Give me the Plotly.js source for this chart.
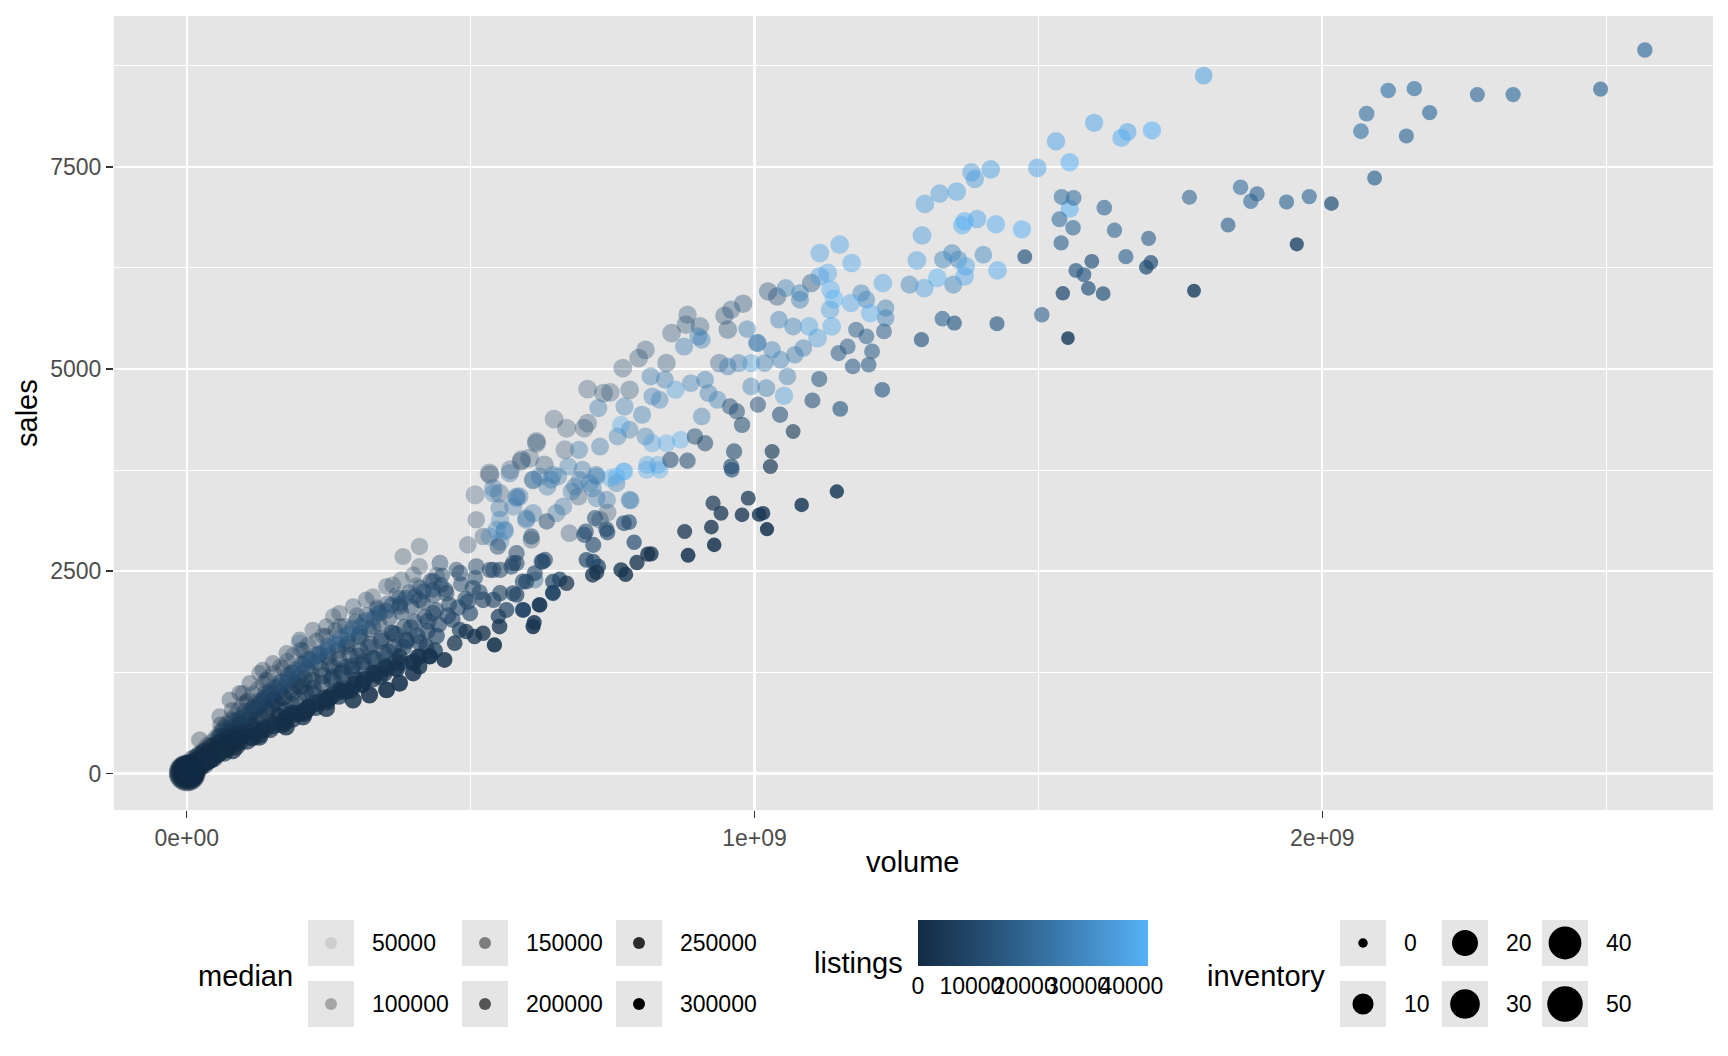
<!DOCTYPE html>
<html>
<head>
<meta charset="utf-8">
<script src="https://cdn.plot.ly/plotly-3.0.1.min.js"></script>
<style>
  html, body { margin: 0; padding: 0; background: #fff; }
  #chart { width: 1728px; height: 1056px; }
</style>
</head>
<body>
<div id="chart"></div>
<script>
// txhousing-like scatter: volume vs sales, colour = listings, alpha = median, size = inventory
// values (volume in $ millions, median in $ thousands)

const volumeM = [
  // upper band, grey (low median)
  1100,1024,1040,980,959,947,953,882,879,904,854,845,796,808,768,780,734,706,746,938,647,669,700,706,666,616,604,589,570,533,508,551,
  616,590,510,522,495,630,410,378,352,410,381,340,316,293,269,246,222,199,176,152,134,111,93,76,
  23,58,99,128,258,328,363,399,
  674,728,741,690,607,534,610,
  60,80,105,140,170,205,240,270,300,335,370,405,440,
  // blob interior
  305,281,328,363,387,222,199,258,281,234,211,187,164,140,152,128,
  152,199,305,
  552,522,
  15,22,28,35,42,50,55,62,68,75,82,88,95,103,110,118,125,133,140,148,156,163,171,178,186,195,204,212,221,230,240,249,258,266,275,284,293,302,311,320,331,342,356,368,382,395,410,425,440,460,478,495,
  // blob fill
  5,8,11,13,9,14,6,
  17,19,21,24,26,28,23,30,
  32,34,37,39,41,44,46,48,36,
  52,54,57,59,61,64,66,69,67,
  71,73,76,78,81,84,86,89,87,
  92,94,97,99,102,106,108,112,115,117,119,116,
  122,126,128,131,135,137,141,144,146,149,139,
  153,155,158,161,165,167,170,174,177,179,172,
  182,185,188,191,194,197,201,203,207,209,205,
  214,216,219,223,226,229,233,236,239,243,246,248,
  252,255,259,262,265,268,272,276,279,283,287,291,295,298,
  303,306,309,313,317,321,324,328,332,336,339,343,347,349,
  353,357,361,365,369,374,378,383,387,392,396,401,406,411,416,419,
  424,429,434,439,444,450,456,462,468,475,483,491,499,508,516,
  // blob middle (bluish) band
  58,64,77,83,96,104,117,124,138,146,158,166,179,186,199,207,219,228,241,249,262,271,284,292,306,315,329,338,352,361,376,386,402,417,433,448,
  // blob shaft near the origin
  3,6,10,14,18,22,28,34,40,46,52,60,68,76,84,92,
  // blob lower dark band
  26,33,47,54,66,73,87,94,106,113,127,133,147,154,168,174,187,193,207,213,227,233,247,253,268,273,288,293,308,313,328,333,348,353,368,377,397,407,428,437,
  // mid blue
  1403,1348,1332,1359,1350,1273,
  1080,1080,1055,1188,1197,1231,1231,987,1004,1043,1068,901,876,907,817,842,771,725,802,820,833,888,913,919,953,935,994,1021,1058,1046,972,1018,1031,1071,1086,1006,
  691,728,759,780,808,907,586,635,654,672,697,721,740,780,715,684,
  540,551,560,581,598,610,642,
  782,757,722,678,651,663,610,598,613,552,534,546,560,552,575,581,540,569,622,645,692,710,722,
  // light blue (high listings)
  1791,1598,1700,1657,1646,1531,1555,1498,1416,1382,1388,1356,1326,1300,1392,1370,1366,1425,1471,1295,1286,1372,1428,1322,1370,1299,1555,
  1150,1115,1171,1129,1115,1134,1140,1170,1226,1204,1096,1111,1136,1133,1052,994,861,765,820,845,870,811,830,746,771,757,769,810,833,
  // slate
  1228,1179,1148,1164,1173,1201,1207,1197,1114,1102,1151,1225,1045,964,959,882,957,969,978,1006,895,913,852,
  548,607,613,627,575,540,645,592,422,481,504,540,563,575,592,510,481,446,434,457,434,410,375,
  788,779,770,739,741,716,703,700,704,716,725,719,634,581,572,552,534,581,625,631,598,645,657,645,581,549,593,622,960,
  // upper right
  2568,2490,2336,2273,2162,2116,2189,2078,2148,2068,2092,2016,1977,1937,1874,1885,1856,1766,1834,1955,1774,1694,1654,1698,1690,1634,1616,1562,1541,1537,1561,1540,1594,1566,1580,1588,1614,1543,1506,1427,1352,1331,1552,1294,1476,
  // dark (high median)
  1068,1031,1028,1145,1083,989,927,1015,978,941,
  1008,1022,924,929,877,883,812,818,793,765,715,
  669,722,773,
  621,610,551,542,454,428,472,507,522,410,375,352,328,299,269,246,211,187,164,
  410,492,612,
  40,81,128,175,205,246,293,322,352,375,399,
  30,60,90,120,150,180,215,250,280,310,340,370,400,
  // small towns near the origin
  0.9,1.5,2.2,3.0,4.1,5.5,7.0,8.8,11,14,18,22,27,33,40,9,12,16,20,25,
  0.6,1.1,1.8,2.6,3.5,4.6,6.2,7.8,10,13,2.0,3.3,5.0,7.5,1.3
];

const sales = [
  6064,5960,5898,5808,5733,5659,5486,5672,5549,5527,5445,5074,5136,5238,5011,4743,4702,4752,4711,5074,4381,4269,4269,4331,4001,4083,3899,3858,3754,3713,3445,3465,
  4105,3878,3136,2929,2826,3816,2558,2393,2311,2806,2682,1981,2146,2063,1981,1816,1775,1651,1486,1362,1280,1115,991,909,
  414,703,991,1239,1940,2187,2332,2455,
  2970,3135,3226,3424,2888,3692,3630,
  600,780,880,1150,1300,1520,1700,1820,1950,2050,2200,2320,2450,
  1733,1569,1816,1733,1651,991,1074,1321,1321,1486,1404,1239,1074,991,909,826,
  868,1610,1692,
  2228,2146,
  120,160,230,260,330,340,420,450,510,470,560,640,600,700,660,780,720,890,820,960,900,1010,940,1120,1000,1180,1090,1290,1150,1380,1210,1450,1190,1520,1260,1600,1330,1450,1380,1560,1420,1640,1500,1720,1560,1800,1620,1880,1700,1950,2050,2120,
  40,55,90,70,110,120,30,
  130,95,200,150,120,260,230,180,
  290,210,340,250,190,380,280,230,160,
  440,330,260,500,390,300,560,420,340,
  610,480,370,660,520,400,720,560,450,
  780,610,470,850,660,520,900,740,580,980,820,450,
  650,1040,860,700,1110,930,760,1180,990,830,560,
  1240,1060,880,700,1320,1130,950,780,1390,1210,630,
  1030,850,1460,1280,1100,920,1530,1350,1170,990,760,
  1590,1410,1230,1050,870,1640,1460,1290,1110,930,1700,1520,
  1340,1160,980,1770,1590,1410,1230,1050,1820,1640,1460,1280,1100,1880,
  1700,1520,1340,1160,1960,1780,1600,1420,1240,2030,1850,1670,1490,1310,
  2100,1920,1740,1560,1380,2170,1990,1810,1630,2240,2060,1880,1700,2300,2120,1940,
  1760,2380,2200,2020,1840,2450,2270,2090,1900,2520,2340,2160,1980,2420,2240,
  440,520,560,640,680,760,800,880,920,1000,1040,1120,1160,1240,1280,1350,1390,1460,1500,1570,1610,1680,1720,1790,1820,1890,1920,1990,2010,2080,2100,2170,2190,2250,2270,2330,
  40,60,80,140,90,180,130,240,200,300,260,360,320,420,380,480,
  118,160,190,245,262,318,336,392,405,455,478,536,548,597,606,668,676,738,745,806,818,874,886,948,955,1016,1025,1088,1094,1158,1166,1228,1236,1296,1302,1368,1372,1440,1452,1520,
  6414,6434,6352,6352,6043,6043,
  5940,5858,6001,5940,5858,5755,5631,5494,5322,5610,5527,5404,5279,5363,4909,4868,4537,4517,4435,4661,4620,4826,4868,4702,5032,4620,4785,4764,4909,5115,5074,5074,5238,5177,5259,5322,
  4001,4042,4167,4249,4167,4414,3424,3547,3672,3795,3754,3692,3383,3383,3527,3547,
  3528,3280,3012,3404,3156,3631,3631,
  3374,3589,3403,3486,3218,3300,3218,3135,2393,2867,2929,3012,2991,3135,3300,3424,3465,3713,3671,3692,3630,3589,3671,
  8628,8044,7952,7931,7858,7817,7557,7487,7469,7432,7350,7193,7169,7042,6855,6827,6778,6790,6727,6653,6343,6269,6220,6126,6146,6001,6983,
  6538,6434,6311,6187,6146,5981,5866,5817,6064,5692,5527,5383,5527,5733,4670,5074,4743,4310,4083,4083,4126,3815,3815,3651,3733,3671,3733,3754,3754,
  5465,5486,5197,5279,5032,5053,5218,5404,4876,4612,4508,4743,4435,3981,3795,3866,4537,4476,4310,4559,4167,4083,3878,
  2806,2929,2476,2620,2600,2517,2228,2022,1569,1775,2290,2146,2022,2228,2373,2558,2476,2600,2373,2228,1981,2146,2063,
  2859,3107,3094,3020,2979,2826,2991,2950,2641,2620,2558,3156,3115,2723,2558,2517,2517,2599,2620,2641,2372,2372,2401,2236,2207,1939,2022,2084,3754,
  8945,8462,8393,8393,8467,8443,8171,8158,7882,7940,7363,7045,7132,7066,7074,7165,7247,7124,6780,6542,5968,6616,6389,6318,6257,6715,6995,7115,7128,6851,6748,6559,6332,6220,6167,5997,5932,5936,5672,5561,5569,5622,5383,5363,6389,
  4228,3981,3795,3486,3320,3404,3341,3218,3197,3218,
  3200,3020,3045,2826,2991,2698,2711,2715,2608,2517,2455,
  2351,2488,2461,
  2084,1816,1816,1589,1404,1445,1610,1692,1733,1445,1445,1321,1239,1156,1032,909,785,744,703,
  1321,1754,1865,
  167,290,455,579,703,806,909,971,1033,1115,1239,
  175,300,420,530,620,720,820,930,1020,1110,1200,1290,1380,
  6,10,14,19,25,33,42,52,65,80,100,120,145,170,200,70,90,110,130,150,
  5,8,12,17,22,29,38,47,58,72,20,28,40,55,15
];

const listings = [
  15800,14200,13600,12900,13400,12100,11800,12600,11900,13100,10400,12300,11200,11700,10800,12500,9800,9400,10900,14600,9200,8800,10100,10600,9700,9900,10300,9500,8600,8200,8900,10700,
  11400,10800,8400,7900,7600,9600,7200,6800,6500,6100,5900,5600,5300,5100,4800,4600,4300,4100,3800,3500,3300,3000,2700,2500,
  900,1800,2600,3100,4700,5500,6200,6700,
  9800,10400,8900,10600,9100,8300,9400,
  1500,2100,2800,3400,3900,4500,5000,5400,5800,6300,6600,7100,7500,
  9800,8900,10400,9600,9100,7400,8100,9300,10200,11400,10800,8700,7600,6900,7200,6400,
  16500,17800,18200,
  7800,7100,
  600,900,1300,1700,2000,2300,2600,2900,3200,3000,3500,3800,3700,4200,4000,4600,4300,5000,4700,5400,5100,5800,5300,6100,5600,6400,5900,6800,6200,7100,6500,7400,6700,7700,7000,8000,7300,7600,7900,8300,8100,8600,8400,8900,8700,9200,8800,9500,9000,9700,9900,10100,
  150,220,300,260,330,380,170,
  420,380,560,520,470,700,610,590,
  780,700,900,860,760,1050,990,930,820,
  1200,1100,1000,1400,1300,1150,1550,1450,1250,
  1650,1500,1350,1800,1700,1550,2000,1900,1750,
  2100,2000,1850,2300,2200,2050,2500,2400,2250,2700,2600,2150,
  2450,2900,2750,2600,3100,2950,2800,3300,3150,3000,2550,
  3500,3350,3200,3050,3700,3550,3400,3250,3900,3750,3100,
  3950,3800,4300,4150,4000,3850,4600,4450,4300,4150,3900,
  4900,4750,4600,4450,4300,5200,5050,4900,4750,4600,5500,5350,
  5200,5050,4900,5800,5650,5500,5350,5200,6100,5950,5800,5650,5500,6400,
  6200,6050,5900,5750,6800,6650,6500,6350,6200,7200,7050,6900,6750,6600,
  7600,7450,7300,7150,7000,8000,7850,7700,7550,8400,8250,8100,7950,8800,8650,8500,
  8300,9200,9050,8900,8700,9600,9450,9300,9100,10000,9850,9700,9500,10400,10200,
  5100,5700,6100,6900,7300,8100,8500,9300,9700,10500,10900,11700,12100,12900,13300,14100,14500,15300,15700,16300,16900,16500,16100,15900,15300,15100,14500,14300,13700,13500,12900,12700,12100,11900,11300,11100,
  80,120,180,240,200,320,280,420,380,520,480,640,600,760,720,880,
  300,450,600,700,850,950,1100,1200,1350,1450,1600,1700,1850,1950,2100,2200,2350,2450,2600,2700,2850,2950,3100,3200,3350,3450,3600,3700,3850,3950,4100,4200,4350,4450,4600,4750,4900,5050,5200,5350,
  31200,30400,29800,30900,29500,28700,
  28900,27600,29300,30100,29200,28400,27800,26500,27100,28800,29500,26900,27300,28200,26100,27400,28300,25800,26700,27900,28600,29100,27200,26400,25900,27700,28100,26600,27500,29000,26300,27800,28500,26800,27300,25600,
  24500,25200,26800,25900,27400,26300,23800,24600,25800,26200,25100,26900,24200,25600,24800,23900,
  23400,22800,24100,25300,24700,26100,25500,
  27900,26600,25400,24300,23100,23700,22900,24400,20800,26200,27100,28300,29400,27600,25700,24900,26800,22400,24600,26300,25100,27200,26700,
  38500,39200,42600,40100,41300,38800,42900,39500,37900,38600,37200,38100,36900,37500,40200,42100,42400,41800,42700,36800,37600,39400,40800,42300,39900,38200,42800,
  39100,38400,40300,39700,37800,41200,43100,40600,39300,41500,38900,37400,39800,38300,36700,35900,37200,39600,38100,40400,41000,37700,38600,39000,40900,41700,42200,40100,39500,
  18900,18200,17400,17800,16900,17600,18300,19100,15600,14800,15900,17200,14300,12600,11900,12400,13800,13200,12700,14100,12300,11800,11200,
  9800,10600,9100,9500,9300,8800,8600,8200,6900,7400,8900,8500,8100,8700,9200,9600,8800,9400,8300,8000,7600,8200,7900,
  11800,12400,12100,11300,11000,10600,11500,11200,9800,9500,9200,12900,11700,9700,9200,8900,8600,9300,9900,10200,8700,9600,9400,8400,8100,7200,8300,8500,13600,
  22800,21900,23500,22100,23900,24600,22400,24100,21500,25200,20300,15200,21800,20900,22600,21100,23200,20400,19800,9800,7900,18900,19600,14100,12800,20100,21200,22900,24300,23800,21400,19700,15800,16400,17200,15100,14600,12400,19300,16900,17500,21000,6900,16200,15500,
  6800,5900,5200,6400,5600,4900,4300,5100,4700,4200,
  4600,4400,3900,3700,3600,3300,3400,3500,3200,3100,2900,
  3000,3300,3200,
  4800,4100,3900,3500,2800,2600,3100,3300,3400,2700,2500,2400,2200,2000,1900,1700,1500,1400,1300,
  2800,3200,4300,
  300,600,900,1100,1300,1500,1700,1900,2000,2100,2300,
  400,700,1000,1200,1400,1600,1800,2000,2200,2300,2500,2600,2800,
  40,60,85,110,140,190,230,280,330,400,480,560,650,760,880,300,360,430,510,600,
  30,50,70,95,120,160,210,260,300,370,150,200,260,330,90
];

const medianK = [
  143,135,137,130,127,125,128,119,120,123,115,121,117,119,114,116,110,108,112,125,107,106,111,113,108,109,107,106,104,103,102,105,
  115,114,112,111,110,116,109,108,110,107,108,111,112,111,112,113,112,114,113,115,114,116,115,117,
  114,111,109,108,106,105,104,103,
  115,120,110,112,114,105,108,
  118,116,115,114,113,111,110,109,108,107,106,105,104,
  141,143,144,168,188,179,148,156,170,126,120,121,122,113,134,124,
  140,99,144,
  198,194,
  100,110,97,108,102,118,105,110,107,128,117,110,127,118,133,121,139,120,137,123,139,129,146,127,149,132,150,132,154,133,159,137,173,140,175,142,176,167,180,164,186,167,190,171,196,176,202,181,207,189,187,187,
  100,116,98,149,66,93,160,
  105,160,84,128,173,86,80,133,
  88,130,87,125,173,93,131,167,180,
  95,131,175,94,125,171,94,131,158,
  93,122,164,95,125,168,96,127,155,
  94,123,165,93,124,163,96,121,159,96,116,206,
  150,97,119,150,97,118,148,98,118,144,199,
  99,117,144,184,100,118,143,178,102,118,218,
  141,174,103,119,141,171,105,120,142,169,216,
  108,123,142,170,208,112,128,146,172,209,116,131,
  150,176,211,118,133,152,177,210,123,138,157,182,215,127,
  143,161,184,216,129,144,162,185,214,132,147,164,186,213,
  134,149,166,187,214,138,152,169,190,140,154,171,191,143,157,173,
  193,144,158,174,193,147,161,177,197,151,165,182,202,168,184,
  125,118,130,124,133,129,137,133,140,137,142,139,144,140,144,143,146,145,148,147,150,149,152,150,154,153,157,156,160,159,163,162,167,168,173,174,
  140,150,145,155,160,150,165,140,155,145,160,150,165,155,170,160,
  176,165,198,176,202,184,207,192,209,199,213,199,215,206,222,208,221,209,222,211,222,213,223,214,225,215,225,215,225,216,225,217,225,218,226,220,231,226,236,230,
  156,158,155,157,154,152,
  151,150,149,153,152,154,153,146,147,149,148,143,142,144,139,140,136,134,137,138,139,141,142,140,143,140,144,145,146,148,144,145,147,148,149,146,
  131,133,134,135,136,138,125,127,129,130,131,132,129,131,128,127,
  124,126,127,126,128,129,130,
  133,132,129,127,126,127,125,124,142,121,120,122,123,121,124,125,122,123,127,128,130,131,132,
  178,171,176,172,170,167,172,166,162,160,158,159,156,155,165,164,163,166,168,154,150,157,159,152,154,151,170,
  152,149,151,148,147,148,150,151,153,150,146,144,147,149,141,138,135,132,130,132,133,131,129,130,128,129,130,131,132,
  180,172,177,176,186,190,185,177,183,191,204,207,188,194,202,182,169,173,182,176,172,179,176,
  155,165,200,190,178,172,230,230,215,215,175,200,220,205,198,158,155,138,146,163,175,152,145,
  220,200,199,196,199,203,188,190,213,219,227,182,163,171,179,175,170,179,191,191,202,218,219,231,211,227,235,239,205,
  213,210,209,206,205,203,207,201,208,199,214,232,204,205,198,200,196,193,205,248,252,201,204,224,229,196,195,186,183,190,194,199,219,214,217,222,224,233,196,211,209,197,258,212,218,
  202,207,217,262,261,232,222,252,245,234,
  252,271,243,263,235,262,240,241,243,243,233,
  228,232,251,
  238,269,243,273,259,237,234,240,241,227,208,213,212,207,209,217,215,201,187,
  248,225,262,
  192,223,225,242,233,244,258,265,272,269,258,
  137,160,171,181,194,200,210,215,220,223,227,229,232,
  125,140,130,135,148,142,150,145,155,148,152,154,156,160,158,112,118,120,125,128,
  125,140,135,150,145,155,150,160,145,150,95,100,115,125,85
];

const inventory = [
  6.2,6.0,5.9,6.1,5.8,6.0,6.3,5.9,6.1,6.2,6.4,6.0,6.3,6.2,6.4,6.5,6.6,6.4,6.3,6.1,6.5,6.7,6.4,6.3,6.6,6.5,6.8,6.6,6.9,7.0,6.8,6.7,
  6.3,6.5,4.8,4.6,4.9,6.4,4.2,4.4,4.1,4.5,4.3,3.9,4.0,3.8,3.7,3.9,3.6,3.8,3.5,3.7,3.4,3.6,3.5,3.8,
  4.5,3.9,3.6,3.4,3.7,3.8,4.0,4.1,
  5.0,5.2,5.4,5.6,4.9,6.8,6.2,
  4.2,4.0,3.8,3.9,3.7,3.8,3.6,3.7,3.9,4.0,4.1,4.2,4.3,
  4.1,4.3,4.0,3.9,3.7,4.6,4.4,4.2,4.1,4.3,4.5,4.7,4.9,5.1,5.0,5.3,
  6.0,5.5,5.2,
  3.5,3.7,
  9.8,8.9,8.1,7.6,7.2,7.0,6.7,6.5,6.3,6.4,6.1,6.0,6.2,5.8,6.0,5.6,5.8,5.5,5.7,5.4,5.6,5.2,5.4,5.1,5.3,5.0,5.2,4.9,5.1,4.8,5.0,4.7,4.9,4.6,4.8,4.5,4.7,4.6,4.5,4.4,4.3,4.4,4.2,4.3,4.1,4.2,4.0,4.1,3.9,4.0,3.8,3.7,
  12,10,9,11,8,9,13,
  8.5,9.2,7.1,8.0,9.5,6.6,6.9,7.8,
  6.3,7.4,6.0,6.9,7.8,5.7,6.5,7.2,8.1,
  5.5,6.2,7.0,5.3,5.9,6.7,5.1,5.7,6.4,
  5.0,5.5,6.3,4.9,5.4,6.1,4.8,5.2,5.8,
  4.7,5.1,5.8,4.6,5.0,5.6,4.5,4.9,5.5,4.4,4.8,5.9,
  5.3,4.3,4.7,5.2,4.2,4.6,5.1,4.1,4.5,5.0,5.7,
  4.0,4.4,4.9,5.4,3.9,4.3,4.8,5.3,3.8,4.2,5.6,
  4.7,5.1,3.8,4.1,4.6,5.0,3.7,4.0,4.5,4.9,5.4,
  3.6,3.9,4.4,4.8,5.2,3.5,3.8,4.3,4.7,5.1,3.5,3.7,
  4.2,4.6,5.0,3.4,3.7,4.1,4.5,4.9,3.4,3.6,4.0,4.4,4.8,3.3,
  3.6,3.9,4.3,4.7,3.2,3.5,3.8,4.2,4.6,3.2,3.4,3.7,4.1,4.5,
  3.1,3.4,3.7,4.0,4.4,3.1,3.3,3.6,3.9,3.0,3.2,3.5,3.8,3.0,3.2,3.4,
  3.7,2.9,3.1,3.4,3.6,2.9,3.0,3.3,3.5,2.8,3.0,3.2,3.4,2.9,3.1,
  6.8,6.6,6.5,6.2,6.1,5.9,5.8,5.6,5.6,5.4,5.4,5.2,5.2,5.0,5.0,4.8,4.8,4.6,4.6,4.4,4.4,4.3,4.2,4.1,4.0,3.9,3.8,3.7,3.6,3.5,3.4,3.3,3.2,3.1,3.0,2.9,
  22,20,19,18,17,16,15,14,13,12.5,12,11.5,11,10.5,10,9.5,
  7.5,7.2,6.9,6.7,6.5,6.3,6.1,6.0,5.8,5.7,5.6,5.5,5.4,5.3,5.2,5.1,5.0,4.9,4.8,4.8,4.7,4.6,4.6,4.5,4.4,4.4,4.3,4.3,4.2,4.2,4.1,4.0,4.0,3.9,3.9,3.8,3.8,3.7,3.7,3.6,
  5.1,5.3,5.4,5.2,5.5,5.6,
  5.2,5.4,5.3,4.8,4.9,4.6,4.8,5.0,5.2,5.1,5.3,5.4,5.6,5.3,5.5,5.4,5.7,5.6,5.5,5.3,5.4,5.2,5.1,5.2,5.0,5.3,5.1,5.0,4.9,5.1,5.2,5.0,4.9,4.8,4.9,5.1,
  5.6,5.4,5.3,5.2,5.3,5.0,5.8,5.6,5.5,5.4,5.3,5.5,5.6,5.4,5.7,5.5,
  5.9,5.8,5.7,5.6,5.5,5.4,5.3,
  5.2,5.3,5.4,5.5,5.6,5.5,5.7,5.8,4.6,6.0,6.1,5.9,5.8,5.9,5.7,5.6,5.8,5.9,5.6,5.5,5.4,5.3,5.2,
  5.2,5.8,5.6,5.4,5.7,5.9,6.0,6.1,6.2,6.0,5.8,6.3,6.1,6.4,6.2,6.0,6.1,5.9,5.8,6.5,6.6,6.3,6.2,6.4,6.3,6.5,5.8,
  6.4,6.3,6.2,6.5,6.6,6.3,6.4,6.2,6.1,6.3,6.5,6.6,6.4,6.2,6.0,5.8,5.9,5.6,5.7,5.5,5.4,5.8,5.6,5.5,5.3,5.4,5.2,5.3,5.1,
  3.0,3.1,3.2,3.1,2.9,2.8,3.0,3.1,3.3,3.2,2.9,2.8,3.4,3.5,3.3,3.6,3.5,3.4,3.5,3.3,3.6,3.5,3.7,
  3.8,3.6,3.2,3.4,3.5,3.6,3.0,3.1,3.3,3.2,3.7,3.4,3.1,3.3,3.2,3.9,4.0,4.1,4.0,3.8,3.6,3.9,4.0,
  2.6,2.9,3.0,3.1,3.0,3.2,3.3,3.2,2.8,2.7,2.6,3.3,3.6,3.5,3.4,3.5,3.6,3.4,3.2,3.1,3.0,2.8,2.7,2.6,2.9,2.7,2.6,2.5,2.8,
  2.6,2.4,2.5,2.3,2.6,2.7,2.4,2.8,2.3,2.9,2.2,2.0,2.4,2.3,2.6,2.5,2.7,2.4,2.2,1.6,1.4,2.3,2.4,2.0,1.9,2.6,2.8,3.0,3.2,3.1,2.7,2.5,2.1,2.2,2.2,2.0,2.0,1.8,2.6,2.3,2.4,2.9,1.3,2.4,2.1,
  2.1,2.3,2.4,1.8,1.9,2.2,2.4,1.9,2.0,2.2,
  1.8,1.6,2.0,1.9,2.3,2.1,2.4,2.3,2.5,2.6,2.7,
  2.8,2.6,2.5,
  2.6,2.4,2.8,2.5,3.1,3.2,2.9,2.7,2.6,3.3,3.6,3.8,3.9,4.1,4.2,4.4,4.6,4.8,5.0,
  3.0,2.7,2.2,
  6.5,5.8,5.4,5.1,4.9,4.7,4.5,4.3,4.1,4.0,3.8,
  7.2,6.4,6.0,5.6,5.3,5.1,4.9,4.7,4.5,4.3,4.2,4.0,3.9,
  55.9,48,42,36,30,26,22,19,16,14,12,11,10,9,8.5,24,20,17,15,13,
  52,45,40,34,28,24,20,17,15,13,35,30,25,21,44
];

// legend breaks
const medianBreaks = [50000, 100000, 150000, 200000, 250000, 300000];
const listingBreaks = [0, 10000, 20000, 30000, 40000];
const inventoryBreaks = [0, 10, 20, 30, 40, 50];

// scale limits (data ranges)
const MEDIAN_MIN = 50000, MEDIAN_MAX = 304200;
const LISTINGS_MAX = 43107;
const INVENTORY_MAX = 55.9;

// panel box in pixels
const PL = 114, PR = 1713, PT = 16, PB = 810;
const px = (x) => (x - PL) / (PR - PL);
const py = (y) => (PB - y) / (PB - PT);

const FONT = 'Liberation Sans, Arial, Helvetica, sans-serif';

// ggplot-like mappings
function alphaOf(m) {
  const a = 0.1 + 0.9 * (m - MEDIAN_MIN) / (MEDIAN_MAX - MEDIAN_MIN);
  return Math.max(0.1, Math.min(1, a));
}
function sizeOf(inv) {
  return 9.5 + 27.5 * Math.sqrt(Math.max(0, inv) / INVENTORY_MAX);
}

// colour gradient #132B43 -> #56B1F7, interpolated in Lab like scales::seq_gradient_pal
function hexToRgb(h) { return [1, 3, 5].map((i) => parseInt(h.slice(i, i + 2), 16) / 255); }
const toLin = (c) => (c <= 0.04045 ? c / 12.92 : Math.pow((c + 0.055) / 1.055, 2.4));
const fromLin = (c) => (c <= 0.0031308 ? 12.92 * c : 1.055 * Math.pow(c, 1 / 2.4) - 0.055);
const WP = [0.95047, 1, 1.08883];
function rgbToLab(rgb) {
  const [r, g, b] = rgb.map(toLin);
  const X = (0.4124564 * r + 0.3575761 * g + 0.1804375 * b) / WP[0];
  const Y = (0.2126729 * r + 0.7151522 * g + 0.072175 * b) / WP[1];
  const Z = (0.0193339 * r + 0.119192 * g + 0.9503041 * b) / WP[2];
  const f = (t) => (t > 0.008856 ? Math.cbrt(t) : 7.787 * t + 16 / 116);
  return [116 * f(Y) - 16, 500 * (f(X) - f(Y)), 200 * (f(Y) - f(Z))];
}
function labToHex(lab) {
  const fy = (lab[0] + 16) / 116, fx = fy + lab[1] / 500, fz = fy - lab[2] / 200;
  const inv = (t) => (t * t * t > 0.008856 ? t * t * t : (t - 16 / 116) / 7.787);
  const X = inv(fx) * WP[0], Y = inv(fy) * WP[1], Z = inv(fz) * WP[2];
  const rgb = [
    3.2404542 * X - 1.5371385 * Y - 0.4985314 * Z,
    -0.969266 * X + 1.8760108 * Y + 0.041556 * Z,
    0.0556434 * X - 0.2040259 * Y + 1.0572252 * Z,
  ].map((c) => Math.round(Math.max(0, Math.min(1, fromLin(c))) * 255));
  return '#' + rgb.map((c) => c.toString(16).padStart(2, '0')).join('');
}
function labScale(lo, hi, n) {
  const a = rgbToLab(hexToRgb(lo)), b = rgbToLab(hexToRgb(hi));
  const out = [];
  for (let i = 0; i <= n; i++) {
    const t = i / n;
    out.push([t, labToHex(a.map((v, k) => v + (b[k] - v) * t))]);
  }
  return out;
}
const colorscale = labScale('#132B43', '#56B1F7', 12);

var trace = {
  type: 'scatter',
  mode: 'markers',
  x: volumeM.map((v) => v * 1e6),
  y: sales,
  hoverinfo: 'skip',
  marker: {
    color: listings,
    colorscale: colorscale,
    cmin: 0,
    cmax: LISTINGS_MAX,
    size: inventory.map(sizeOf),
    opacity: medianK.map((m) => alphaOf(m * 1000)),
    line: { width: 0 },
    showscale: true,
    colorbar: {
      orientation: 'h',
      x: px(918),
      xanchor: 'left',
      y: py(920),
      yanchor: 'top',
      len: 230,
      lenmode: 'pixels',
      thickness: 46,
      thicknessmode: 'pixels',
      outlinewidth: 0,
      xpad: 0,
      ypad: 0,
      ticks: '',
      tickangle: 0,
      tickvals: listingBreaks,
      ticktext: listingBreaks.map(String),
      tickfont: { family: FONT, size: 23, color: '#000' },
      title: { text: '' },
    },
  },
};

// legends drawn as shapes + annotations
var shapes = [];
var annotations = [];

function text(t, x, y, opts) {
  annotations.push(Object.assign({
    text: t, xref: 'paper', yref: 'paper', x: px(x), y: py(y),
    showarrow: false, xanchor: 'left', yanchor: 'middle',
    font: { family: FONT, size: 23, color: '#000' },
  }, opts || {}));
}
function keyBox(x, y) {
  shapes.push({
    type: 'rect', xref: 'paper', yref: 'paper',
    x0: px(x), x1: px(x + 46), y0: py(y + 46), y1: py(y),
    fillcolor: '#E5E5E5', line: { width: 0 },
  });
}
function keyDot(cx, cy, d, opacity) {
  shapes.push({
    type: 'circle', xref: 'paper', yref: 'paper',
    xsizemode: 'pixel', ysizemode: 'pixel',
    xanchor: px(cx), yanchor: py(cy),
    x0: -d / 2, x1: d / 2, y0: -d / 2, y1: d / 2,
    fillcolor: '#000000', opacity: opacity, line: { width: 0 },
  });
}

const keyRows = [920, 981];
const medianCols = [308, 462, 616];
const inventoryCols = [1340, 1442, 1542];

medianBreaks.forEach((b, i) => {
  const cx = medianCols[Math.floor(i / 2)], cy = keyRows[i % 2];
  keyBox(cx, cy);
  keyDot(cx + 23, cy + 23, 12, alphaOf(b));
  text(String(b), cx + 62, cy + 23);
});
inventoryBreaks.forEach((b, i) => {
  const cx = inventoryCols[Math.floor(i / 2)], cy = keyRows[i % 2];
  keyBox(cx, cy);
  keyDot(cx + 23, cy + 23, sizeOf(b), 1);
  text(String(b), cx + 62, cy + 23);
});

// white tick marks on the colour bar
listingBreaks.forEach((b) => {
  const x = px(918 + (b / LISTINGS_MAX) * 230);
  [[920, 929], [957, 966]].forEach(([y0, y1]) => {
    shapes.push({
      type: 'line', xref: 'paper', yref: 'paper',
      x0: x, x1: x, y0: py(y0), y1: py(y1),
      line: { color: '#FFFFFF', width: 1.5 },
    });
  });
});

// titles
const titleFont = { family: FONT, size: 29, color: '#000' };
text('median', 245, 976, { xanchor: 'center', font: titleFont });
text('listings', 858, 963, { xanchor: 'center', font: titleFont });
text('inventory', 1266, 976, { xanchor: 'center', font: titleFont });
text('volume', 913, 862, { xanchor: 'center', font: titleFont });
text('sales', 27, 413, { xanchor: 'center', textangle: -90, font: titleFont });

var axisCommon = {
  showgrid: true,
  gridcolor: '#FFFFFF',
  gridwidth: 2.2,
  zeroline: false,
  showline: false,
  ticks: 'outside',
  ticklen: 7,
  tickwidth: 1.5,
  tickcolor: '#333333',
  tickfont: { family: FONT, size: 23, color: '#4D4D4D' },
  automargin: false,
  fixedrange: true,
};

var layout = {
  width: 1728,
  height: 1056,
  margin: { l: PL, r: 1728 - PR, t: PT, b: 1056 - PB, pad: 0 },
  paper_bgcolor: '#FFFFFF',
  plot_bgcolor: '#E5E5E5',
  showlegend: false,
  font: { family: FONT },
  xaxis: Object.assign({}, axisCommon, {
    range: [-128e6, 2688e6],
    tickvals: [0, 1e9, 2e9],
    ticktext: ['0e+00', '1e+09', '2e+09'],
    minor: { tickvals: [0.5e9, 1.5e9, 2.5e9], showgrid: true, gridcolor: '#FFFFFF', gridwidth: 1.1, ticks: '' },
  }),
  yaxis: Object.assign({}, axisCommon, {
    range: [-452, 9365],
    tickvals: [0, 2500, 5000, 7500],
    ticktext: ['0', '2500', '5000', '7500'],
    minor: { tickvals: [1250, 3750, 6250, 8750], showgrid: true, gridcolor: '#FFFFFF', gridwidth: 1.1, ticks: '' },
  }),
  shapes: shapes,
  annotations: annotations,
};

var config = { responsive: false, displayModeBar: false, staticPlot: true };

Plotly.newPlot('chart', [trace], layout, config);
</script>
</body>
</html>
